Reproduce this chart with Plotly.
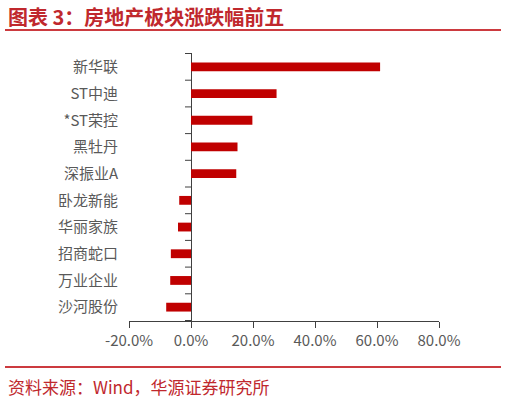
import plotly.graph_objects as go

categories = ["新华联", "ST中迪", "*ST荣控", "黑牡丹", "深振业A", "卧龙新能", "华丽家族", "招商蛇口", "万业企业", "沙河股份"]
changes = [61.0, 27.6, 19.8, 15.0, 14.6, -3.8, -4.2, -6.5, -6.7, -8.0]
x_tickvals = [-20, 0, 20, 40, 60, 80]
x_ticktext = ["-20.0%", "0.0%", "20.0%", "40.0%", "60.0%", "80.0%"]
title_text = "图表 3：房地产板块涨跌幅前五"
source_text = "资料来源：Wind，华源证券研究所"

W, H = 506, 401
L, R, T, B = 129, 439, 53, 321


def px(x):
    return (x - L) / (R - L)


def py(y):
    return (B - y) / (B - T)


RED = "#C0282D"
FONT = "Noto Sans CJK SC"

fig = go.Figure()
fig.add_trace(go.Bar(
    x=changes, y=categories, orientation="h",
    marker=dict(color="#C00000", line=dict(width=0)),
    width=0.33,
))

shapes = []
# category boundary ticks on the zero line
for i in range(len(categories) + 1):
    shapes.append(dict(type="line", xref="x", yref="y", xsizemode="pixel", xanchor=0,
                       x0=-6, x1=0, y0=i - 0.5, y1=i - 0.5,
                       line=dict(color="#404040", width=1)))
# header and footer rules
shapes.append(dict(type="line", xref="paper", yref="paper", x0=px(5), x1=px(501),
                   y0=py(30), y1=py(30), line=dict(color="#CC3A3F", width=2)))
shapes.append(dict(type="line", xref="paper", yref="paper", x0=px(5), x1=px(501),
                   y0=py(367), y1=py(367), line=dict(color="#CC3A3F", width=2)))

annotations = [
    dict(text=title_text, xref="paper", yref="paper", x=px(6), y=py(16),
         xanchor="left", yanchor="middle", showarrow=False,
         font=dict(family=FONT, size=20, color=RED, weight="bold")),
    dict(text=source_text, xref="paper", yref="paper", x=px(6), y=py(386),
         xanchor="left", yanchor="middle", showarrow=False,
         font=dict(family=FONT, size=17, color=RED)),
]

fig.update_layout(
    width=W, height=H,
    margin=dict(l=L, r=W - R, t=T, b=H - B, pad=0),
    paper_bgcolor="white", plot_bgcolor="white",
    showlegend=False,
    shapes=shapes, annotations=annotations,
    font=dict(family=FONT, color="#595959", size=15),
    xaxis=dict(range=[-20, 80], tickvals=x_tickvals, ticktext=x_ticktext,
               showgrid=False, showline=True, linecolor="#404040", linewidth=1,
               ticks="outside", ticklen=6, tickcolor="#404040",
               zeroline=True, zerolinecolor="#404040", zerolinewidth=1,
               tickfont=dict(size=15, color="#595959"), fixedrange=True),
    yaxis=dict(autorange="reversed", showgrid=False, showline=False, zeroline=False,
               ticks="", ticklabelstandoff=10,
               tickfont=dict(size=15, color="#595959"), fixedrange=True),
)

fig.write_html("out.html", config={"displayModeBar": False},
               post_script="document.body.style.margin='0';document.body.style.padding='0';")
